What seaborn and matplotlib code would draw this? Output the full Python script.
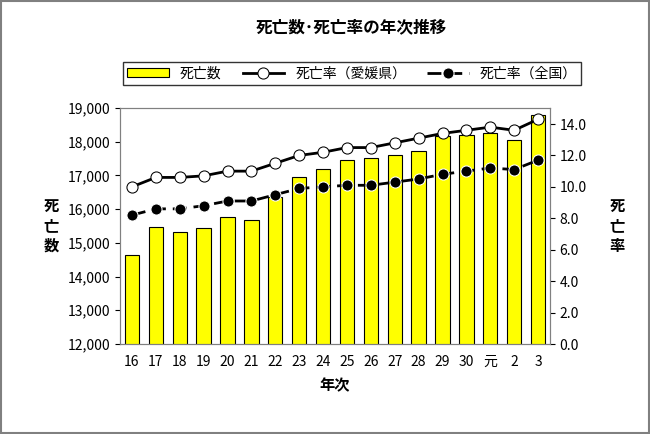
import matplotlib
matplotlib.use("Agg")
import matplotlib.pyplot as plt
import seaborn as sns
import pandas as pd
from matplotlib.patches import Rectangle

plt.rcParams["font.family"] = ["Noto Sans CJK JP", "DejaVu Sans"]

years = ["16", "17", "18", "19", "20", "21", "22", "23", "24", "25", "26", "27",
         "28", "29", "30", "元", "2", "3"]
deaths = [14650, 15480, 15330, 15430, 15770, 15670, 16350, 16950, 17200, 17470,
          17530, 17600, 17730, 18180, 18210, 18270, 18040, 18780]
rate_ehime = [10.0, 10.6, 10.6, 10.7, 11.0, 11.0, 11.5, 12.0, 12.2, 12.5, 12.5,
              12.8, 13.1, 13.4, 13.6, 13.8, 13.6, 14.3]
rate_japan = [8.2, 8.6, 8.6, 8.8, 9.1, 9.1, 9.5, 9.9, 10.0, 10.1, 10.1, 10.3,
              10.5, 10.8, 11.0, 11.2, 11.1, 11.7]

df = pd.DataFrame({"year": years, "deaths": deaths,
                   "ehime": rate_ehime, "japan": rate_japan})
df["x"] = range(len(df))

fig = plt.figure(figsize=(6.5, 4.34), dpi=100)
fig.patches.append(Rectangle((0.002, 0.002), 0.996, 0.996, transform=fig.transFigure,
                             fill=False, edgecolor="#808080", linewidth=1.5))
ax = fig.add_axes([120 / 650, 1 - 344 / 434, 430 / 650, 236 / 434])

sns.barplot(data=df, x="year", y="deaths", color="#FFFF00", edgecolor="black",
            linewidth=0.8, width=0.6, ax=ax, label="死亡数", saturation=1)
ax.set_ylim(12000, 19000)
ax.set_yticks(range(12000, 19001, 1000))
ax.set_yticklabels([f"{v:,}" for v in range(12000, 19001, 1000)], fontsize=10)
ax.set_xlim(-0.5, len(years) - 0.5)
ax.tick_params(axis="x", labelsize=10, length=0, pad=8)
ax.set_xlabel("年次", fontsize=11, fontweight="bold", labelpad=6)
ax.set_ylabel("死\n亡\n数", rotation=0, fontsize=11, fontweight="bold",
              va="center", labelpad=12, linespacing=1.3)

ax2 = ax.twinx()
sns.lineplot(data=df, x="x", y="ehime", color="black", marker="o", markersize=8,
             markerfacecolor="white", markeredgecolor="black", linewidth=2,
             ax=ax2, label="死亡率（愛媛県）")
sns.lineplot(data=df, x="x", y="japan", color="black", marker="o", markersize=8,
             linestyle=(0, (5, 2.5)), linewidth=2, ax=ax2, label="死亡率（全国）")
ax2.set_ylim(0, 14 * 236 / (344 - 124))
ax2.set_yticks([0, 2, 4, 6, 8, 10, 12, 14])
ax2.set_yticklabels([f"{v:.1f}" for v in range(0, 15, 2)], fontsize=10)
ax2.set_ylabel("死\n亡\n率", rotation=0, fontsize=11, fontweight="bold",
               va="center", labelpad=22, linespacing=1.3)
ax2.set_xlabel("")

h1, l1 = ax.get_legend_handles_labels()
h2, l2 = ax2.get_legend_handles_labels()
ax2.legend(h1 + h2, l1 + l2, ncol=3, loc="lower center", bbox_to_anchor=(0.54, 1.07),
           frameon=True, fancybox=False, edgecolor="black", fontsize=10,
           handlelength=3, columnspacing=1.5, borderpad=0.3)
if ax.legend_:
    ax.legend_.remove()

for a in (ax, ax2):
    for s in a.spines.values():
        s.set_color("#808080")

fig.text(0.54, 0.925, "死亡数･死亡率の年次推移", ha="center", fontsize=12, fontweight="bold")
fig.savefig("out.png", dpi=100)
